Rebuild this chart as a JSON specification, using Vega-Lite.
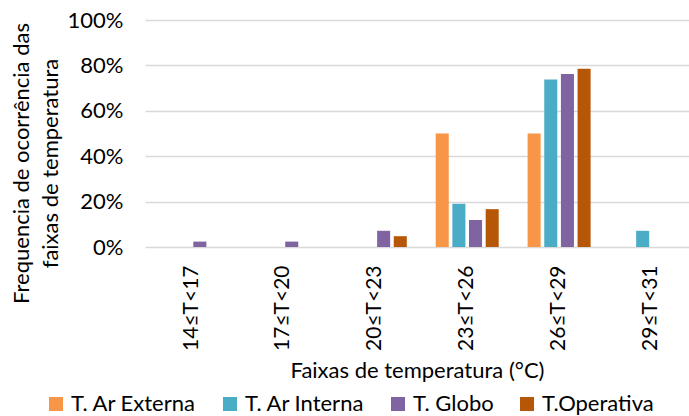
{
  "$schema": "https://vega.github.io/schema/vega-lite/v6.json",
  "width": 544,
  "height": 227,
  "autosize": {"type": "none"},
  "padding": {"left": 145, "top": 20, "right": 0, "bottom": 169},
  "background": "white",
  "config": {
    "view": {"stroke": null},
    "font": "Lato",
    "axis": {"labelColor": "#000000", "titleColor": "#000000", "labelFont": "Lato", "titleFont": "Lato", "titleFontWeight": "normal"},
    "legend": {"labelColor": "#000000", "labelFont": "Lato"}
  },
  "data": {
    "values": [
      {"faixa": "14≤T<17", "serie": "T. Globo", "freq": 0.0238},
      {"faixa": "17≤T<20", "serie": "T. Globo", "freq": 0.0238},
      {"faixa": "20≤T<23", "serie": "T. Globo", "freq": 0.0714},
      {"faixa": "20≤T<23", "serie": "T.Operativa", "freq": 0.0476},
      {"faixa": "23≤T<26", "serie": "T. Ar Externa", "freq": 0.5},
      {"faixa": "23≤T<26", "serie": "T. Ar Interna", "freq": 0.1905},
      {"faixa": "23≤T<26", "serie": "T. Globo", "freq": 0.119},
      {"faixa": "23≤T<26", "serie": "T.Operativa", "freq": 0.1667},
      {"faixa": "26≤T<29", "serie": "T. Ar Externa", "freq": 0.5},
      {"faixa": "26≤T<29", "serie": "T. Ar Interna", "freq": 0.7381},
      {"faixa": "26≤T<29", "serie": "T. Globo", "freq": 0.7619},
      {"faixa": "26≤T<29", "serie": "T.Operativa", "freq": 0.7857},
      {"faixa": "29≤T<31", "serie": "T. Ar Interna", "freq": 0.0714}
    ]
  },
  "mark": {"type": "bar"},
  "encoding": {
    "x": {
      "field": "faixa",
      "type": "nominal",
      "scale": {
        "domain": ["14≤T<17", "17≤T<20", "20≤T<23", "23≤T<26", "26≤T<29", "29≤T<31"],
        "paddingInner": 0.3145,
        "paddingOuter": 0.117,
        "align": 0.698,
        "round": false
      },
      "axis": {
        "title": "Faixas de temperatura (°C)",
        "titleFontSize": 22,
        "titlePadding": 10,
        "labelAngle": -90,
        "labelAlign": "right",
        "labelBaseline": "middle",
        "labelFontSize": 21,
        "labelPadding": 18,
        "ticks": false,
        "domain": false,
        "grid": false
      }
    },
    "xOffset": {
      "field": "serie",
      "type": "nominal",
      "scale": {
        "domain": ["T. Ar Externa", "T. Ar Interna", "T. Globo", "T.Operativa"],
        "paddingInner": 0.217,
        "paddingOuter": 0
      }
    },
    "y": {
      "field": "freq",
      "type": "quantitative",
      "scale": {"domain": [0, 1], "nice": false},
      "axis": {
        "title": ["Frequencia de ocorrência das", "faixas de temperatura"],
        "titleFontSize": 22,
        "titleLineHeight": 29,
        "titleAngle": -90,
        "titleAlign": "center",
        "titleBaseline": "middle",
        "titleX": -124,
        "titleY": 143,
        "values": [0, 0.2, 0.4, 0.6, 0.8, 1],
        "format": ".0%",
        "labelFontSize": 22,
        "labelPadding": 22,
        "ticks": false,
        "domain": false,
        "grid": true,
        "gridColor": "#d9d9d9",
        "gridWidth": 1.5
      }
    },
    "color": {
      "field": "serie",
      "type": "nominal",
      "scale": {
        "domain": ["T. Ar Externa", "T. Ar Interna", "T. Globo", "T.Operativa"],
        "range": ["#F79646", "#4BACC6", "#8064A2", "#B65708"]
      },
      "legend": {
        "title": null,
        "orient": "none",
        "direction": "horizontal",
        "legendX": -100,
        "legendY": 373,
        "symbolType": "square",
        "symbolSize": 196,
        "symbolStrokeWidth": 0,
        "labelFontSize": 22,
        "labelOffset": 4,
        "columnPadding": 22
      }
    }
  }
}
